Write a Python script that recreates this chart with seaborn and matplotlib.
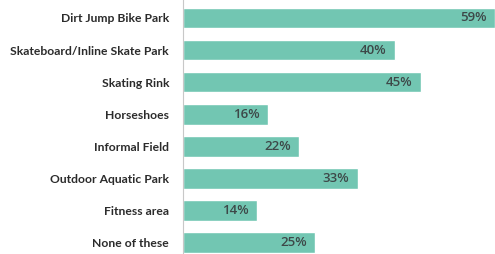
import matplotlib
matplotlib.use("Agg")
import matplotlib.pyplot as plt
import seaborn as sns
import pandas as pd

categories = ["Dirt Jump Bike Park", "Skateboard/Inline Skate Park", "Skating Rink",
              "Horseshoes", "Informal Field", "Outdoor Aquatic Park",
              "Fitness area", "None of these"]
values = [59, 40, 45, 16, 22, 33, 14, 25]
value_labels = ["59%", "40%", "45%", "16%", "22%", "33%", "14%", "25%"]

df = pd.DataFrame({"cat": categories, "val": values})

sns.set_theme(style="white")
plt.rcParams['font.family'] = ['Lato', 'DejaVu Sans']

fig = plt.figure(figsize=(4.95, 2.54), dpi=100)
ax = fig.add_axes([183/495, 0.0, 1 - 183/495, 1.0])

sns.barplot(data=df, x="val", y="cat", orient="h", color="#72C6B2",
            saturation=1, width=0.64, ax=ax)

ax.set_xlim(0, 59)
ax.set_ylim(7.35, -0.56)
ax.set_xlabel("")
ax.set_ylabel("")
ax.set_xticks([])
for s in ["top", "right", "bottom"]:
    ax.spines[s].set_visible(False)
ax.spines["left"].set_color("#c8c8c8")
ax.spines["left"].set_linewidth(0.8)
ax.tick_params(axis="y", length=0, pad=10)
for lbl in ax.get_yticklabels():
    lbl.set_fontweight("bold")
    lbl.set_fontsize(8.7)
    lbl.set_color("#2b2b2b")

for i, (v, t) in enumerate(zip(values, value_labels)):
    ax.annotate(t, xy=(v, i), xytext=(-6, 0), textcoords="offset points",
                ha="right", va="center", fontsize=9.5, fontweight="semibold",
                color="#3d4848", family=["Open Sans", "DejaVu Sans"])

fig.savefig("out.png", dpi=100)
